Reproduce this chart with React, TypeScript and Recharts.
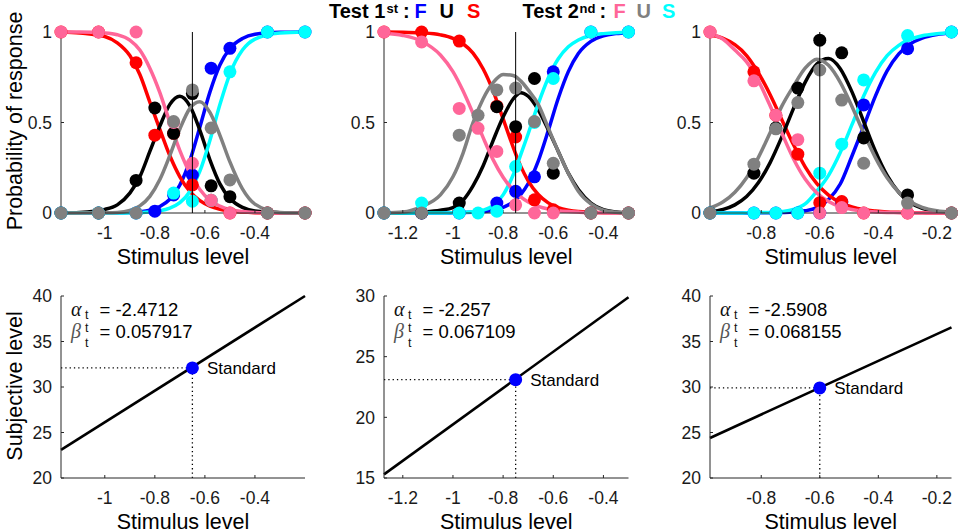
import React from 'react';
import { ComposedChart, Line, Scatter, XAxis, YAxis, ReferenceLine, ReferenceDot } from 'recharts';

const SANS = '"Liberation Sans", Arial, Helvetica, sans-serif';
const SERIF = '"Liberation Serif", "DejaVu Serif", serif';
const AXIS = '#262626';
const TICK_FILL = '#1a1a1a';

const BLUE = '#0000ff';
const RED = '#ff0000';
const BLACK = '#000000';
const CYAN = '#00ffff';
const PINK = '#ff6699';
const GRAY = '#808080';

// ---------------- Panel 1 (standard -0.65) ----------------
const p1Levels = [-1.175, -1.025, -0.875, -0.8, -0.725, -0.65, -0.575, -0.5, -0.35, -0.2];
const p1BluePts = [0, 0, 0, 0.01, 0.1, 0.21, 0.8, 0.91, 1, 1];
const p1RedPts = [1, 1, 0.83, 0.43, 0.44, 0.155, 0.07, 0, 0, 0];
const p1BlackPts = [0, 0, 0.18, 0.58, 0.44, 0.66, 0.15, 0.09, 0, 0];
const p1CyanPts = [0, 0, 0, null, 0.11, 0.065, 0.07, 0.78, 1, 1];
const p1PinkPts = [1, 1, 1, null, 0.5, 0.275, 0.07, 0, 0, 0];
const p1GrayPts = [0, 0, 0, null, 0.505, 0.68, 0.47, 0.183, 0, 0];

const p1Grid = [-1.175, -1.1, -1.0, -0.95, -0.9, -0.86, -0.82, -0.78, -0.74, -0.7, -0.66, -0.62, -0.58, -0.54, -0.5, -0.45, -0.4, -0.3, -0.2];
const p1BlueFit = [0, 0, 0.001, 0.001, 0.003, 0.007, 0.016, 0.036, 0.076, 0.155, 0.289, 0.475, 0.668, 0.818, 0.909, 0.964, 0.987, 0.998, 1];
const p1RedFit = [1, 0.995, 0.975, 0.94, 0.87, 0.765, 0.613, 0.462, 0.316, 0.2, 0.119, 0.068, 0.038, 0.021, 0.011, 0.005, 0.002, 0, 0];
const p1BlackFit = [0, 0.003, 0.02, 0.045, 0.11, 0.2, 0.34, 0.48, 0.6, 0.645, 0.592, 0.457, 0.294, 0.161, 0.08, 0.031, 0.011, 0.002, 0];
const p1CyanFit = [0, 0, 0, 0, 0.001, 0.002, 0.005, 0.012, 0.027, 0.057, 0.119, 0.231, 0.401, 0.599, 0.769, 0.9, 0.961, 0.995, 1];
const p1PinkFit = [1, 1, 0.995, 0.985, 0.955, 0.9, 0.8, 0.665, 0.5, 0.345, 0.22, 0.13, 0.07, 0.038, 0.018, 0.008, 0.003, 0, 0];
const p1GrayFit = [0, 0, 0.001, 0.003, 0.014, 0.039, 0.092, 0.185, 0.318, 0.464, 0.578, 0.615, 0.556, 0.429, 0.282, 0.133, 0.049, 0.003, 0];

// ---------------- Panel 2 (standard -0.75) ----------------
const p2Levels = [-1.275, -1.125, -0.975, -0.9, -0.825, -0.75, -0.675, -0.6, -0.45, -0.3];
const p2BluePts = [0, 0, 0, null, 0.055, 0.12, 0.2, 0.78, 1, 1];
const p2RedPts = [1, 1, 0.95, null, 0.59, 0.42, 0.073, 0.018, 0, 0];
const p2BlackPts = [0, 0, 0.055, null, 0.587, 0.477, 0.743, 0.22, 0, 0];
const p2CyanPts = [0, 0.055, 0, 0, 0.01, 0.257, 0.5, 0.743, 1, 1];
const p2PinkPts = [1, 0.945, 0.578, 0.468, 0.34, 0.045, 0, 0, 0, 0];
const p2GrayPts = [0, 0, 0.43, 0.54, 0.68, 0.69, 0.505, 0.275, 0, 0];

const p2Grid = [-1.275, -1.2, -1.125, -1.05, -1.0, -0.96, -0.92, -0.88, -0.84, -0.8, -0.76, -0.73, -0.7, -0.66, -0.62, -0.58, -0.54, -0.5, -0.45, -0.4, -0.35, -0.3];
const p2BlueFit = [0, 0, 0, 0, 0.001, 0.002, 0.004, 0.007, 0.015, 0.031, 0.061, 0.102, 0.163, 0.287, 0.455, 0.634, 0.781, 0.881, 0.948, 0.979, 0.991, 0.996];
const p2RedFit = [1, 0.999, 0.995, 0.984, 0.965, 0.935, 0.883, 0.797, 0.675, 0.52, 0.364, 0.259, 0.178, 0.102, 0.056, 0.03, 0.016, 0.008, 0.004, 0.002, 0.001, 0];
const p2BlackFit = [0, 0, 0.005, 0.015, 0.03, 0.07, 0.15, 0.26, 0.4, 0.53, 0.63, 0.665, 0.645, 0.57, 0.46, 0.34, 0.22, 0.13, 0.055, 0.018, 0.005, 0];
const p2CyanFit = [0, 0, 0, 0, 0.001, 0.003, 0.007, 0.016, 0.04, 0.1, 0.21, 0.321, 0.438, 0.603, 0.746, 0.852, 0.918, 0.956, 0.981, 0.991, 0.996, 0.998];
const p2PinkFit = [0.993, 0.981, 0.949, 0.873, 0.781, 0.675, 0.55, 0.418, 0.295, 0.198, 0.127, 0.089, 0.061, 0.037, 0.022, 0.013, 0.008, 0.005, 0.002, 0.001, 0, 0];
const p2GrayFit = [0, 0.005, 0.035, 0.1, 0.2, 0.33, 0.5, 0.63, 0.72, 0.765, 0.76, 0.73, 0.68, 0.6, 0.47, 0.34, 0.22, 0.12, 0.05, 0.015, 0.004, 0];

// ---------------- Panel 3 (standard -0.6) ----------------
const p3Levels = [-0.975, -0.825, -0.75, -0.675, -0.6, -0.525, -0.45, -0.3, -0.15];
const p3BluePts = [0, 0, 0, 0, 0, 0.06, 0.597, 0.908, 1];
const p3RedPts = [1, 0.78, 0.54, 0.325, 0.057, 0.063, 0, 0, 0];
const p3BlackPts = [0, 0.22, 0.47, 0.69, 0.955, 0.885, 0.415, 0.1, 0];
const p3CyanPts = [0, 0, 0, 0, 0.22, 0.38, 0.735, 0.98, 1];
const p3PinkPts = [1, 0.73, 0.54, 0.405, 0, 0.03, 0, 0, 0];
const p3GrayPts = [0, 0.27, 0.465, 0.61, 0.79, 0.624, 0.275, 0.055, 0];

const p3Grid = [-0.975, -0.93, -0.89, -0.85, -0.81, -0.77, -0.73, -0.69, -0.65, -0.61, -0.57, -0.53, -0.49, -0.45, -0.41, -0.37, -0.33, -0.29, -0.25, -0.2, -0.15];
const p3BlueFit = [0, 0, 0, 0, 0.001, 0.002, 0.003, 0.005, 0.012, 0.03, 0.075, 0.16, 0.315, 0.478, 0.646, 0.785, 0.879, 0.935, 0.966, 0.986, 0.994];
const p3RedFit = [0.985, 0.965, 0.93, 0.87, 0.775, 0.655, 0.517, 0.378, 0.255, 0.162, 0.099, 0.058, 0.034, 0.019, 0.011, 0.006, 0.004, 0.002, 0.001, 0, 0];
const p3BlackFit = [0.008, 0.02, 0.045, 0.091, 0.167, 0.277, 0.419, 0.577, 0.722, 0.823, 0.853, 0.797, 0.669, 0.505, 0.342, 0.208, 0.114, 0.056, 0.025, 0.008, 0.002];
const p3CyanFit = [0, 0, 0, 0.001, 0.002, 0.003, 0.008, 0.02, 0.05, 0.121, 0.208, 0.334, 0.488, 0.646, 0.776, 0.869, 0.926, 0.96, 0.979, 0.99, 0.996];
const p3PinkFit = [0.99, 0.96, 0.9, 0.835, 0.731, 0.594, 0.443, 0.3, 0.188, 0.111, 0.064, 0.035, 0.019, 0.011, 0.006, 0.003, 0.002, 0, 0, 0, 0];
const p3GrayFit = [0.028, 0.062, 0.115, 0.195, 0.306, 0.442, 0.589, 0.7, 0.8, 0.85, 0.816, 0.722, 0.589, 0.442, 0.306, 0.195, 0.115, 0.062, 0.031, 0.012, 0.004];

// ---------------- Axis / tick labels ----------------
const probTicks = [0, 0.5, 1];
const p1XTicks = [-1, -0.8, -0.6, -0.4];
const p2XTicks = [-1.2, -1, -0.8, -0.6, -0.4];
const p3XTicks = [-0.8, -0.6, -0.4, -0.2];
const b1YTicks = [20, 25, 30, 35, 40];
const b2YTicks = [15, 20, 25, 30];
const b3YTicks = [20, 25, 30, 35, 40];

// ---------------- Bottom panels (linear mapping) ----------------
const b1LineX = [-1.175, -0.2];
const b1LineY = [23.1, 40];
const b1Standard = [-0.65, 32.1];
const b2LineX = [-1.275, -0.3];
const b2LineY = [15.3, 29.9];
const b2Standard = [-0.75, 23.1];
const b3LineX = [-0.975, -0.15];
const b3LineY = [24.4, 36.55];
const b3Standard = [-0.6, 29.9];

const alphaLabels = ['-2.4712', '-2.257', '-2.5908'];
const betaLabels = ['0.057917', '0.067109', '0.068155'];

type Series = { key: string; color: string; fit: number[]; pts: (number | null)[] };

const makeSeries = (fits: number[][], pts: (number | null)[][]): Series[] => {
  const keys = ['blue', 'red', 'black', 'cyan', 'pink', 'gray'];
  const cols = [BLUE, RED, BLACK, CYAN, PINK, GRAY];
  return keys.map((k, i) => ({ key: k, color: cols[i], fit: fits[i], pts: pts[i] }));
};

const panels = [
  {
    plotLeft: 61, plotRight: 305, domain: [-1.175, -0.2], xTicks: p1XTicks, standard: -0.65,
    grid: p1Grid, levels: p1Levels,
    series: makeSeries(
      [p1BlueFit, p1RedFit, p1BlackFit, p1CyanFit, p1PinkFit, p1GrayFit],
      [p1BluePts, p1RedPts, p1BlackPts, p1CyanPts, p1PinkPts, p1GrayPts]
    ),
    bottom: { yDomain: [20, 40], yTicks: b1YTicks, lineX: b1LineX, lineY: b1LineY, std: b1Standard },
  },
  {
    plotLeft: 384, plotRight: 628.5, domain: [-1.275, -0.3], xTicks: p2XTicks, standard: -0.75,
    grid: p2Grid, levels: p2Levels,
    series: makeSeries(
      [p2BlueFit, p2RedFit, p2BlackFit, p2CyanFit, p2PinkFit, p2GrayFit],
      [p2BluePts, p2RedPts, p2BlackPts, p2CyanPts, p2PinkPts, p2GrayPts]
    ),
    bottom: { yDomain: [15, 30], yTicks: b2YTicks, lineX: b2LineX, lineY: b2LineY, std: b2Standard },
  },
  {
    plotLeft: 710, plotRight: 951.5, domain: [-0.975, -0.15], xTicks: p3XTicks, standard: -0.6,
    grid: p3Grid, levels: p3Levels,
    series: makeSeries(
      [p3BlueFit, p3RedFit, p3BlackFit, p3CyanFit, p3PinkFit, p3GrayFit],
      [p3BluePts, p3RedPts, p3BlackPts, p3CyanPts, p3PinkPts, p3GrayPts]
    ),
    bottom: { yDomain: [20, 40], yTicks: b3YTicks, lineX: b3LineX, lineY: b3LineY, std: b3Standard },
  },
];

const Y_AXIS_W = 55;
const RIGHT_M = 12;
const tickStyle = { fontSize: 17.5, fill: TICK_FILL, fontFamily: SANS };

const dotShape = (color: string) => (props: any) => (
  <circle cx={props.cx} cy={props.cy} r={6.5} fill={color} stroke="none" />
);

function TopPanel({ p }: { p: any }) {
  const width = p.plotRight - p.plotLeft + Y_AXIS_W + RIGHT_M;
  return (
    <div style={{ position: 'absolute', left: p.plotLeft - Y_AXIS_W, top: 12 }}>
      <ComposedChart width={width} height={241} margin={{ top: 20, right: RIGHT_M, bottom: 0, left: 0 }}>
        <XAxis
          type="number" dataKey="x" domain={p.domain} ticks={p.xTicks} interval={0} height={40}
          tickSize={-3} tickMargin={17} stroke={AXIS} tick={tickStyle}
        />
        <YAxis
          type="number" dataKey="y" domain={[0, 1]} ticks={probTicks} interval={0} width={Y_AXIS_W}
          tickSize={-3} tickMargin={12} stroke={AXIS} tick={tickStyle}
        />
        {p.series.map((s: Series) => (
          <Line
            key={'l' + s.key}
            data={p.grid.map((x: number, i: number) => ({ x, y: s.fit[i] }))}
            dataKey="y" type="monotone" stroke={s.color} strokeWidth={3.5}
            dot={false} activeDot={false} isAnimationActive={false}
          />
        ))}
        {p.series.map((s: Series) => (
          <Scatter
            key={'s' + s.key}
            data={p.levels.map((x: number, i: number) => ({ x, y: s.pts[i] })).filter((d: any) => d.y !== null)}
            dataKey="y" shape={dotShape(s.color)} isAnimationActive={false}
          />
        ))}
        <ReferenceLine x={p.standard} stroke="#000" strokeWidth={1} zIndex={700} />
      </ComposedChart>
    </div>
  );
}

function BottomPanel({ p }: { p: any }) {
  const b = p.bottom;
  const width = p.plotRight - p.plotLeft + Y_AXIS_W + RIGHT_M;
  return (
    <div style={{ position: 'absolute', left: p.plotLeft - Y_AXIS_W, top: 276 }}>
      <ComposedChart width={width} height={242} margin={{ top: 20, right: RIGHT_M, bottom: 0, left: 0 }}>
        <XAxis
          type="number" dataKey="x" domain={p.domain} ticks={p.xTicks} interval={0} height={40}
          tickSize={-3} tickMargin={17} stroke={AXIS} tick={tickStyle}
        />
        <YAxis
          type="number" dataKey="y" domain={b.yDomain} ticks={b.yTicks} interval={0} width={Y_AXIS_W}
          tickSize={-3} tickMargin={12} stroke={AXIS} tick={tickStyle}
        />
        <ReferenceLine
          segment={[{ x: p.domain[0], y: b.std[1] }, { x: b.std[0], y: b.std[1] }]}
          stroke="#000" strokeWidth={1.3} strokeDasharray="1.3 3"
        />
        <ReferenceLine
          segment={[{ x: b.std[0], y: b.yDomain[0] }, { x: b.std[0], y: b.std[1] }]}
          stroke="#000" strokeWidth={1.3} strokeDasharray="1.3 3"
        />
        <Line
          data={b.lineX.map((x: number, i: number) => ({ x, y: b.lineY[i] }))}
          dataKey="y" type="linear" stroke="#000" strokeWidth={2.6}
          dot={false} activeDot={false} isAnimationActive={false}
        />
        <ReferenceDot
          x={b.std[0]} y={b.std[1]} r={6.5} fill={BLUE} stroke="none" zIndex={800}
          label={{ value: 'Standard', position: 'right', offset: 8, fontSize: 17, fill: '#000', fontFamily: SANS }}
        />
      </ComposedChart>
    </div>
  );
}

function Overlay() {
  return (
    <svg
      width={964} height={532}
      style={{ position: 'absolute', left: 0, top: 0, pointerEvents: 'none' }}
    >
      {/* Title */}
      <text fontFamily={SANS} fontWeight={700} fontSize={20} fill="#000">
        <tspan x={329} y={18}>Test 1</tspan>
        <tspan x={386.5} y={12.5} fontSize={13}>st</tspan>
        <tspan x={403} y={18}>:</tspan>
        <tspan x={414.5} y={18} fill={BLUE}>F</tspan>
        <tspan x={439.5} y={18}>U</tspan>
        <tspan x={467} y={18} fill={RED}>S</tspan>
        <tspan x={522.5} y={18}>Test 2</tspan>
        <tspan x={579.5} y={12.5} fontSize={13}>nd</tspan>
        <tspan x={599.5} y={18}>:</tspan>
        <tspan x={613.5} y={18} fill={PINK}>F</tspan>
        <tspan x={636.5} y={18} fill={GRAY}>U</tspan>
        <tspan x={662} y={18} fill={CYAN}>S</tspan>
      </text>
      {/* Axis titles */}
      {panels.map((p, i) => {
        const cx = (p.plotLeft + p.plotRight) / 2;
        return (
          <g key={'xl' + i} fontFamily={SANS} fontSize={21.5} fill="#000" textAnchor="middle">
            <text x={cx} y={263.5}>Stimulus level</text>
            <text x={cx} y={528.5}>Stimulus level</text>
          </g>
        );
      })}
      <text
        x={0} y={0} fontFamily={SANS} fontSize={21.5} fill="#000" textAnchor="middle"
        transform="translate(22,121) rotate(-90)"
      >
        Probability of response
      </text>
      <text
        x={0} y={0} fontFamily={SANS} fontSize={21.5} fill="#000" textAnchor="middle"
        transform="translate(22,386) rotate(-90)"
      >
        Subjective level
      </text>
      {/* Parameter annotations (one text block per panel) */}
      {panels.map((p, i) => {
        const ax = p.plotLeft;
        return (
          <text key={'ann' + i} fontFamily={SANS} fontSize={18.5} fill="#000">
            <tspan x={ax + 10} y={316} fontFamily={SERIF} fontStyle="italic" fontSize={20} fill="#111">α</tspan>
            <tspan x={ax + 24} y={318.5} fontSize={12.5} fill="#111">t</tspan>
            <tspan x={ax + 38.5} y={316}>= {alphaLabels[i]}</tspan>
            <tspan x={ax + 10} y={338} fontFamily={SERIF} fontStyle="italic" fontSize={20} fill="#555">β</tspan>
            <tspan x={ax + 24} y={332} fontSize={12.5} fill="#111">t</tspan>
            <tspan x={ax + 24} y={347} fontSize={12.5} fill="#111">t</tspan>
            <tspan x={ax + 38.5} y={338}>= {betaLabels[i]}</tspan>
          </text>
        );
      })}
    </svg>
  );
}

export default function App() {
  return (
    <div style={{ position: 'absolute', left: 0, top: 0, width: 964, height: 532, background: '#fff', overflow: 'hidden', fontFamily: SANS }}>
      {panels.map((p, i) => <TopPanel key={'t' + i} p={p} />)}
      {panels.map((p, i) => <BottomPanel key={'b' + i} p={p} />)}
      <Overlay />
    </div>
  );
}
